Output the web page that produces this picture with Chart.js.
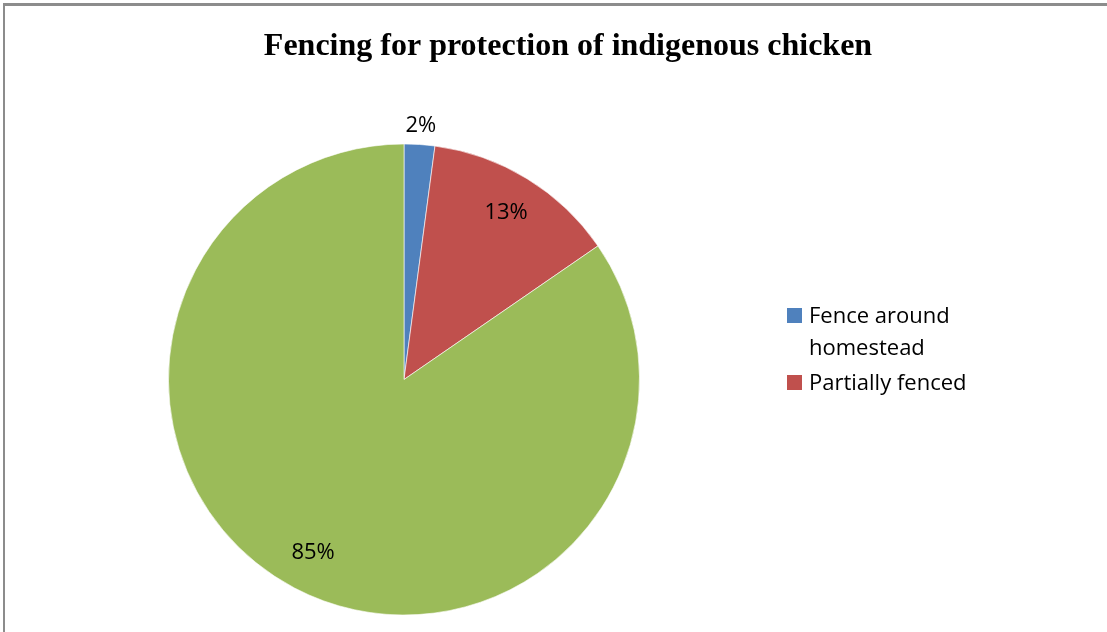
<!DOCTYPE html>
<html>
<head>
<meta charset="utf-8">
<script src="https://cdn.jsdelivr.net/npm/chart.js@4"></script>
<style>
  body { margin: 0; background: #fff; overflow: hidden; }
  #frame {
    position: absolute; left: 3px; top: 3px;
    width: 1110px; height: 640px;
    border-left: 2px solid #8c8c8c; border-top: 3px solid #8c8c8c;
  }
  canvas { display: block; }
</style>
</head>
<body>
<div id="frame"><canvas id="pieChart" width="1102" height="626"></canvas></div>
<script>
// datos del grafico
const categories = ['Fence around homestead', 'Partially fenced', 'Not fenced'];
const values = [2.1, 13.3, 84.6];
const pctLabels = ['2%', '13%', '85%'];
const colors = ['#4F81BD', '#C0504D', '#9BBB59'];
const legendLines = [['Fence around', 'homestead'], ['Partially fenced']];
const chartTitle = 'Fencing for protection of indigenous chicken';

// titulo, etiquetas y leyenda dibujados a mano
const extras = {
  id: 'extras',
  afterDraw(chart) {
    const ctx = chart.ctx;
    ctx.save();
    ctx.fillStyle = '#000';
    ctx.textAlign = 'center';
    ctx.textBaseline = 'alphabetic';
    ctx.font = 'bold 32px "Liberation Serif", "Times New Roman", serif';
    ctx.fillText(chartTitle, 563, 49);

    // etiquetas de porcentaje
    ctx.font = '22px "Open Sans", "Noto Sans", sans-serif';
    ctx.textBaseline = 'middle';
    chart.getDatasetMeta(0).data.forEach((arc, i) => {
      const mid = (arc.startAngle + arc.endAngle) / 2;
      const r = (arc.endAngle - arc.startAngle) < 0.3 ? arc.outerRadius * 1.08 : arc.outerRadius * 0.83;
      ctx.fillText(pctLabels[i], arc.x + Math.cos(mid) * r, arc.y + Math.sin(mid) * r);
    });

    // leyenda (solo dos entradas, como en el original)
    ctx.textAlign = 'left';
    ctx.textBaseline = 'alphabetic';
    let y = 317;
    legendLines.forEach((lines, i) => {
      ctx.fillStyle = colors[i];
      ctx.fillRect(782, y - 15, 15, 15);
      ctx.fillStyle = '#000';
      lines.forEach((txt, j) => {
        ctx.fillText(txt, 804, y + j * 32);
      });
      y += lines.length * 32 + 3;
    });
    ctx.restore();
  }
};

const ctx = document.getElementById('pieChart').getContext('2d');
const pieChart = new Chart(ctx, {
  type: 'pie',
  data: {
    labels: categories,
    datasets: [{
      data: values,
      backgroundColor: colors,
      borderColor: 'rgba(255,255,255,0.6)',
      borderWidth: 1
    }]
  },
  options: {
    responsive: false,
    animation: false,
    layout: { padding: { top: 137, left: 163, right: 467, bottom: 16 } },
    plugins: {
      legend: { display: false },
      title: { display: false },
      tooltip: { enabled: false }
    }
  },
  plugins: [extras]
});
</script>
</body>
</html>
